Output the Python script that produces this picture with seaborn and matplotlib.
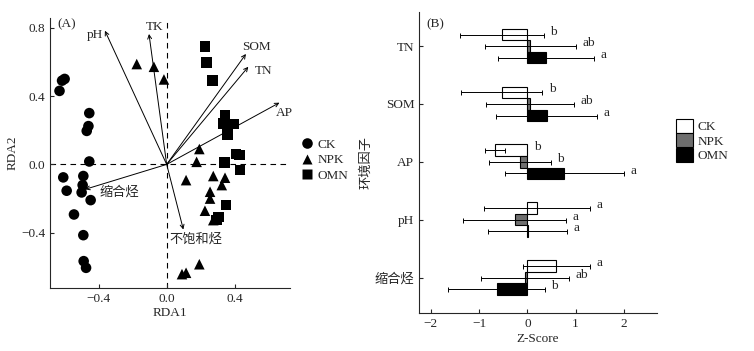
import numpy as np
import pandas as pd
import matplotlib
matplotlib.use('Agg')
import matplotlib.pyplot as plt
import seaborn as sns

# ---------------- data : panel A (RDA) ----------------
ck_x = [-0.615, -0.60, -0.63, -0.455, -0.46, -0.47, -0.455, -0.608, -0.49, -0.494,
        -0.588, -0.50, -0.447, -0.545, -0.49, -0.488, -0.474]
ck_y = [0.49, 0.50, 0.43, 0.30, 0.224, 0.196, 0.017, -0.076, -0.068, -0.121,
        -0.154, -0.164, -0.209, -0.293, -0.414, -0.566, -0.605]
npk_x = [-0.176, -0.075, -0.016, 0.192, 0.176, 0.114, 0.274, 0.343, 0.324, 0.255,
         0.255, 0.225, 0.274, 0.294, 0.192, 0.114, 0.09]
npk_y = [0.587, 0.571, 0.497, 0.09, 0.015, -0.092, -0.068, -0.078, -0.121, -0.16,
         -0.20, -0.271, -0.326, -0.316, -0.584, -0.634, -0.642]
omn_x = [0.225, 0.235, 0.27, 0.343, 0.333, 0.392, 0.359, 0.408, 0.427, 0.341,
         0.43, 0.349, 0.304, 0.294]
omn_y = [0.689, 0.597, 0.49, 0.289, 0.24, 0.236, 0.176, 0.06, 0.055, 0.012,
         -0.033, -0.238, -0.307, -0.326]

env_names = ['pH', 'TK', 'SOM', 'TN', 'AP', '缩合烃', '不饱和烃']
env_x = [-0.363, -0.104, 0.466, 0.48, 0.663, -0.48, 0.098]
env_y = [0.782, 0.763, 0.646, 0.571, 0.361, -0.146, -0.381]
lab_x = [-0.42, -0.073, 0.525, 0.568, 0.69, -0.28, 0.17]
lab_y = [0.757, 0.806, 0.689, 0.546, 0.302, -0.164, -0.439]

# ---------------- data : panel B (Z-score) ----------------
factors = ['TN', 'SOM', 'AP', 'pH', '缩合烃']
groups = ['CK', 'NPK', 'OMN']
z_mean = {'CK':  [-0.52, -0.53, -0.67, 0.20, 0.60],
          'NPK': [0.065, 0.055, -0.155, -0.26, -0.055],
          'OMN': [0.385, 0.40, 0.765, 0.01, -0.635]}
z_sd = {'CK':  [0.865, 0.84, 0.20, 1.10, 0.70],
        'NPK': [0.95, 0.915, 0.645, 1.07, 0.915],
        'OMN': [0.995, 1.04, 1.235, 0.815, 1.0]}
z_sig = {'CK':  ['b', 'b', 'b', 'a', 'a'],
         'NPK': ['ab', 'ab', 'b', 'a', 'ab'],
         'OMN': ['a', 'a', 'a', 'a', 'b']}

FS = 9.5

sns.set_style('ticks')
plt.rcParams['font.family'] = ['Liberation Serif', 'Noto Sans CJK SC', 'DejaVu Sans']
plt.rcParams['font.size'] = FS
plt.rcParams['xtick.direction'] = 'in'
plt.rcParams['ytick.direction'] = 'in'
plt.rcParams['xtick.major.size'] = 3
plt.rcParams['ytick.major.size'] = 3
plt.rcParams['axes.linewidth'] = 0.8

fig = plt.figure(figsize=(7.54, 3.51), dpi=100)
ax1 = fig.add_axes([0.0663, 0.180, 0.3183, 0.769])
ax2 = fig.add_axes([0.556, 0.107, 0.315, 0.859])

# ---- panel A
dfa = pd.DataFrame({
    'RDA1': ck_x + npk_x + omn_x,
    'RDA2': ck_y + npk_y + omn_y,
    'group': ['CK'] * len(ck_x) + ['NPK'] * len(npk_x) + ['OMN'] * len(omn_x)})
sns.scatterplot(data=dfa, x='RDA1', y='RDA2', style='group',
                markers={'CK': 'o', 'NPK': '^', 'OMN': 's'},
                color='black', s=58, edgecolor='none', ax=ax1, legend=True)
ax1.axhline(0, color='black', ls=(0, (5, 4)), lw=0.8, zorder=0)
ax1.axvline(0, color='black', ls=(0, (5, 4)), lw=0.8, zorder=0)
for name, ex, ey, tx, ty in zip(env_names, env_x, env_y, lab_x, lab_y):
    ax1.annotate('', xy=(ex, ey), xytext=(0, 0),
                 arrowprops=dict(arrowstyle='->', color='black', lw=0.7,
                                 shrinkA=0, shrinkB=0, mutation_scale=7))
    ax1.text(tx, ty, name, ha='center', va='center', fontsize=FS)
ax1.set_xlim(-0.686, 0.725)
ax1.set_ylim(-0.722, 0.857)
ax1.set_xticks([-0.4, 0.0, 0.4])
ax1.set_yticks([-0.4, 0.0, 0.4, 0.8])
ax1.set_xlabel('RDA1', fontsize=FS, labelpad=2)
ax1.set_ylabel('RDA2', fontsize=FS, labelpad=2)
ax1.text(0.03, 0.978, '(A)', transform=ax1.transAxes, ha='left', va='center', fontsize=FS)
sns.despine(ax=ax1)
h, l = ax1.get_legend_handles_labels()
ax1.legend(h, l, loc='center left', bbox_to_anchor=(0.398, 0.544),
           bbox_transform=fig.transFigure, frameon=False, fontsize=FS,
           handlelength=1.0, handletextpad=0.3, labelspacing=0.25, borderpad=0,
           borderaxespad=0, markerscale=1.0)

# ---- panel B
rows = []
for g in groups:
    for f, m in zip(factors, z_mean[g]):
        rows.append({'factor': f, 'group': g, 'z': m})
dfb = pd.DataFrame(rows)
pal = {'CK': 'white', 'NPK': '#6e6e6e', 'OMN': 'black'}
sns.barplot(data=dfb, x='z', y='factor', hue='group', orient='h', palette=pal,
            order=factors, hue_order=groups, edgecolor='black', linewidth=0.8,
            width=0.6, errorbar=None, ax=ax2)
for g, cont in zip(groups, ax2.containers):
    for i, bar in enumerate(cont):
        yc = bar.get_y() + bar.get_height() / 2
        m = z_mean[g][i]
        sd = z_sd[g][i]
        ax2.errorbar(m, yc, xerr=sd, fmt='none', ecolor='black', elinewidth=0.7,
                     capsize=1.8, capthick=0.7, zorder=1)
        ax2.text(max(m + sd, 0) + 0.13, yc - 0.05, z_sig[g][i], ha='left',
                 va='center', fontsize=FS)
ax2.set_xlim(-2.24, 2.68)
ax2.set_ylim(4.62, -0.59)
ax2.set_xticks([-2, -1, 0, 1, 2])
ax2.set_xlabel('Z-Score', fontsize=FS, labelpad=2)
ax2.set_ylabel('环境因子', fontsize=FS, labelpad=2)
ax2.text(0.031, 0.96, '(B)', transform=ax2.transAxes, ha='left', va='center', fontsize=FS)
sns.despine(ax=ax2)
h, l = ax2.get_legend_handles_labels()
ax2.legend(h, l, loc='center left', bbox_to_anchor=(0.8966, 0.5997),
           bbox_transform=fig.transFigure, frameon=False, fontsize=FS,
           handlelength=1.3, handleheight=1.25, handletextpad=0.35,
           labelspacing=0.0, borderpad=0, borderaxespad=0)
for t in ax1.get_xticklabels() + ax1.get_yticklabels() + ax2.get_xticklabels() + ax2.get_yticklabels():
    t.set_fontsize(FS)

fig.savefig('out.png', dpi=100)
